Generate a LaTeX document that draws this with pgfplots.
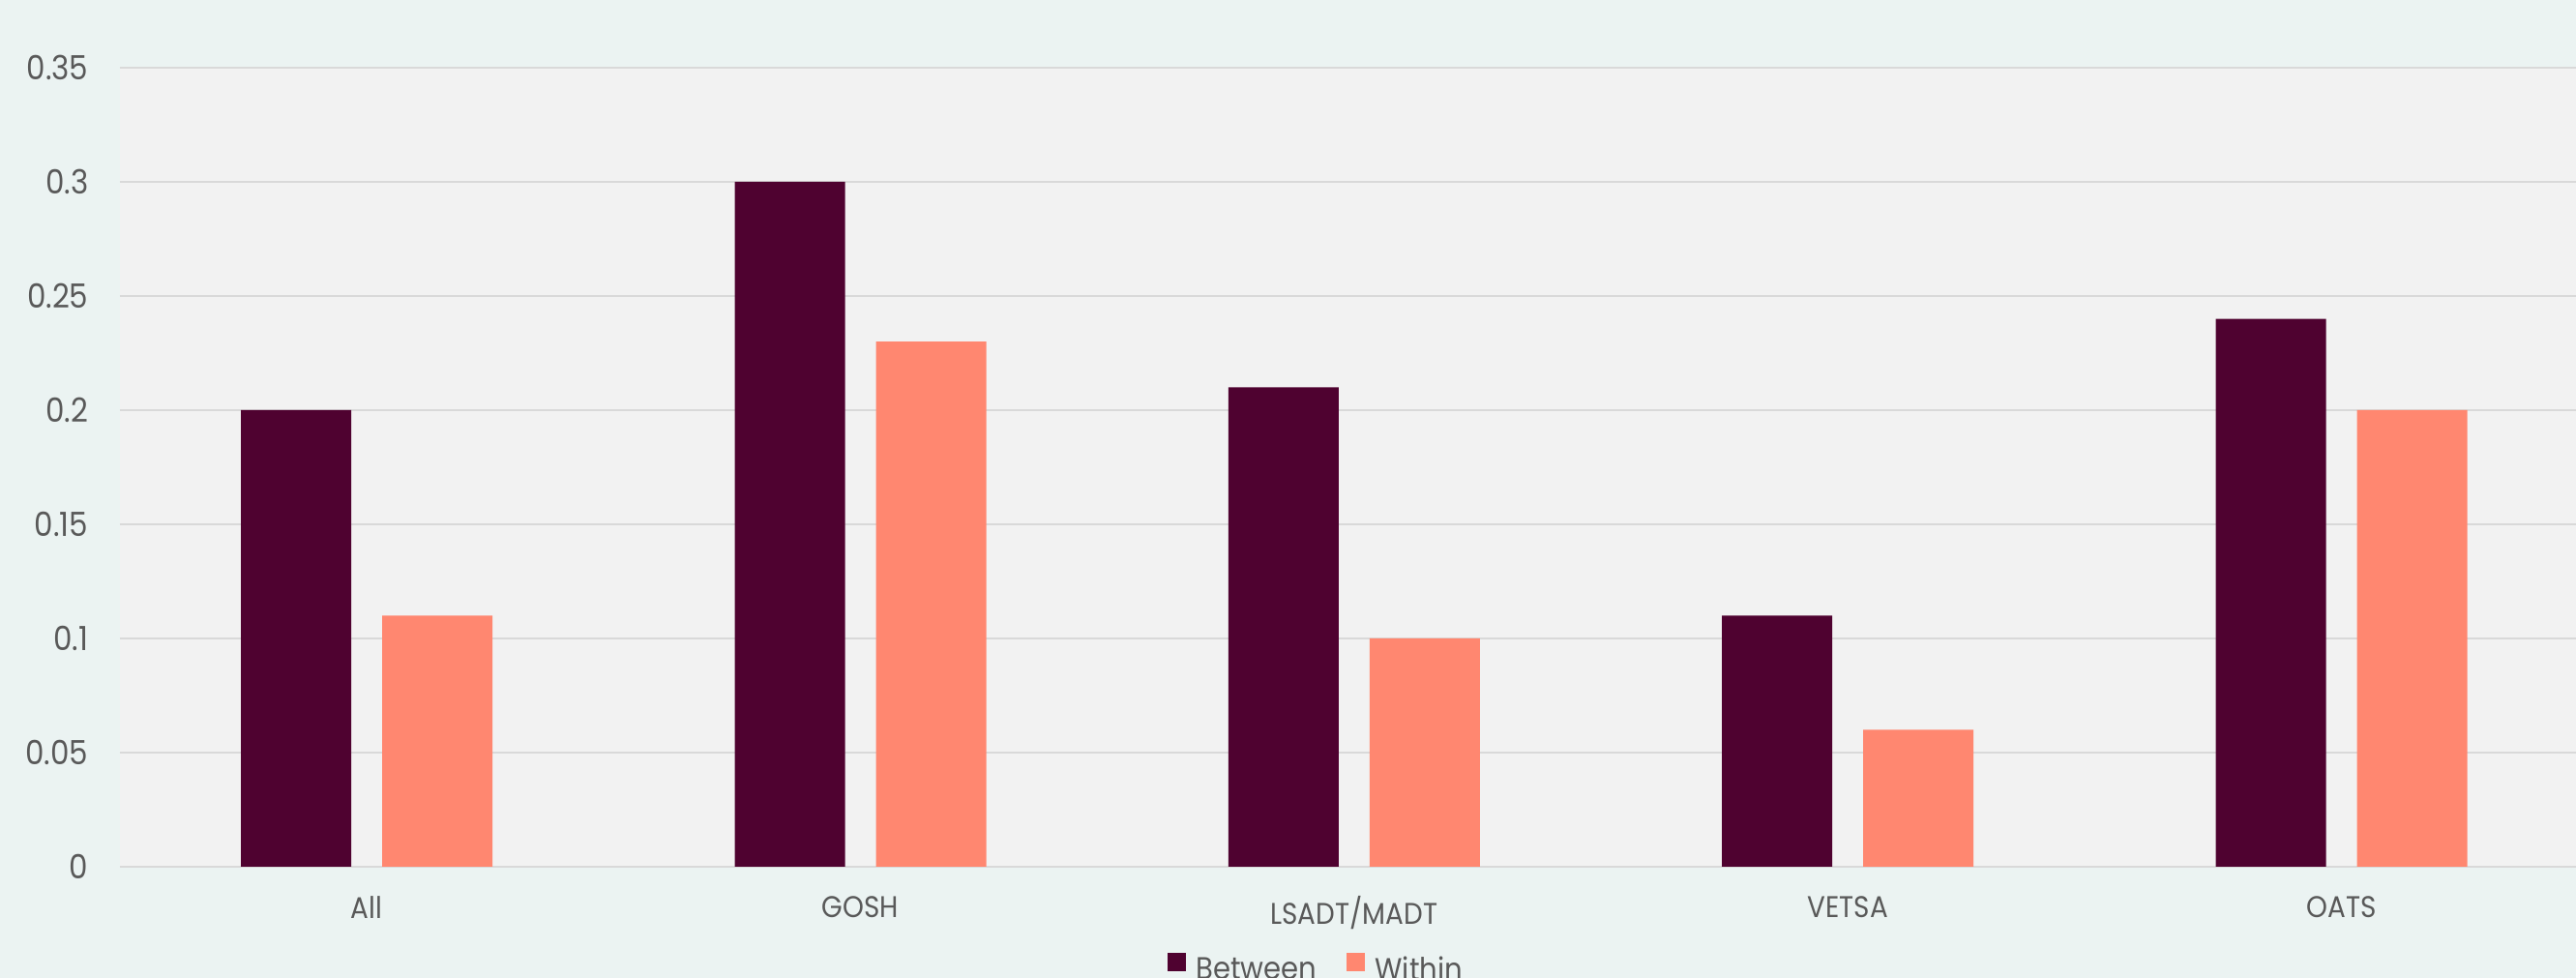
\documentclass[border=0pt]{standalone}
\usepackage{fontspec}
\setmainfont{Poppins}[FakeStretch=0.9]
\usepackage{pgfplots}
\pgfplotsset{compat=1.18}
\definecolor{bgmint}{HTML}{EBF3F2}
\definecolor{plotbg}{HTML}{F2F2F2}
\definecolor{gridgray}{HTML}{D9D9D9}
\definecolor{txtgray}{HTML}{595959}
\definecolor{maroon}{HTML}{4F0230}
\definecolor{salmon}{HTML}{FF8770}
\begin{document}
\begin{tikzpicture}[font=\fontsize{8.8}{10.5}\selectfont]
\path[use as bounding box, fill=bgmint] (0,0) rectangle (266.3mm,101.1mm);
\clip (0,0) rectangle (266.3mm,101.1mm);
\begin{axis}[
  at={(12.4mm,11.5mm)}, anchor=south west,
  scale only axis, width=253.9mm, height=82.6mm,
  xmin=-0.5, xmax=4.475, ymin=0, ymax=0.35,
  axis background/.style={fill=plotbg},
  axis line style={draw=none},
  major tick length=0pt,
  ymajorgrids, grid style={gridgray, line width=0.2mm},
  ytick={0,0.05,0.1,0.15,0.2,0.25,0.3,0.35},
  yticklabels={0,0.05,0.1,0.15,0.2,0.25,0.3,0.35},
  xtick={0,1,2,3,4},
  xticklabels={All,GOSH,LSADT/MADT,VETSA,OATS},
  ticklabel style={text=txtgray},
  yticklabel style={inner sep=0pt, anchor=east, xshift=-3.2mm, font=\fontsize{9.8}{11}\selectfont},
  xticklabel style={inner sep=0pt, anchor=north, yshift=-3.0mm, font=\fontsize{8.8}{10.5}\selectfont},
  /pgf/number format/assume math mode=true,
  ybar, bar width=11.4mm,
  legend style={at={(axis description cs:0.4867,-0.1066)}, anchor=north,
    draw=none, fill=none, inner sep=0pt,
    nodes={inner sep=0pt, text=txtgray, font=\fontsize{9.2}{11}\selectfont},
    /tikz/every odd column/.append style={column sep=1.0mm},
    /tikz/every even column/.append style={column sep=3.1mm}},
  legend columns=-1,
  legend image code/.code={\fill[#1] (0mm,0mm) rectangle (1.9mm,1.9mm);},
]
\addplot[fill=maroon, draw=none, bar shift=-7.3mm] coordinates {(0,0.20) (1,0.30) (2,0.21) (3,0.11) (4,0.24)};
\addlegendentry{Between}
\addplot[fill=salmon, draw=none, bar shift=7.3mm] coordinates {(0,0.11) (1,0.23) (2,0.10) (3,0.06) (4,0.20)};
\addlegendentry{Within}
\end{axis}
\end{tikzpicture}
\end{document}
